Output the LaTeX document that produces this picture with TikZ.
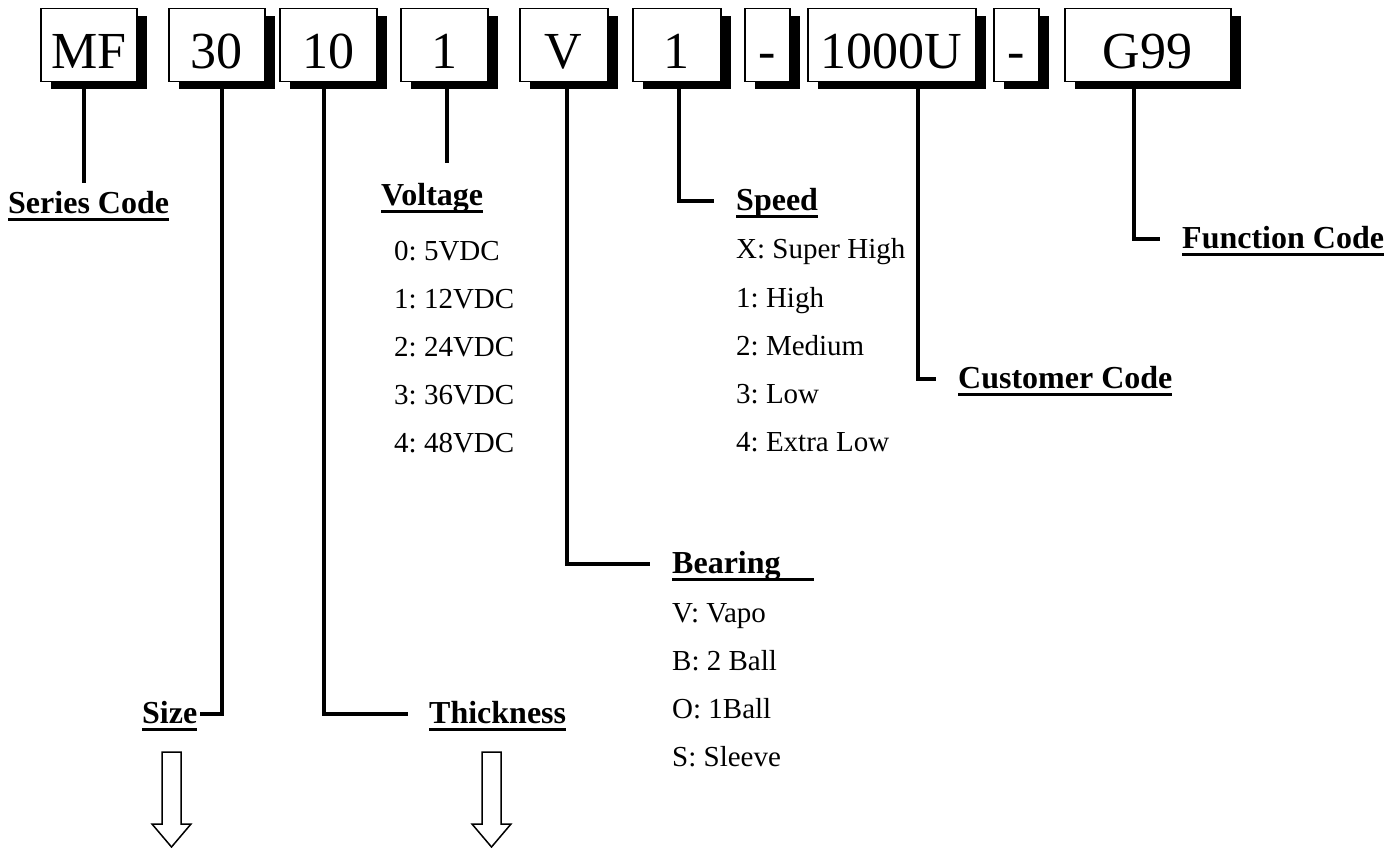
\documentclass[tikz,border=0pt]{standalone}
\usepackage{fontspec}
\setmainfont{Liberation Serif}
\usepackage{tikz}
\usetikzlibrary{shadows}
\frenchspacing
\newcommand{\ulbar}[1]{\setbox0=\hbox{#1}\rlap{\vrule height -5pt depth 8pt width \wd0}\box0}
\tikzset{
  codebox/.style = {draw=black, line width=1.5pt, fill=white, anchor=north west,
    inner sep=0pt, text height=60pt, text depth=13pt,
    font=\fontsize{52}{52}\selectfont,
    drop shadow={shadow xshift=10pt, shadow yshift=-7pt, fill=black, opacity=1}},
  lbl/.style = {inner sep=0pt, anchor=base west, text height=18pt, text depth=0pt,
    font=\fontsize{32}{32}\selectfont\bfseries},
  item/.style = {inner sep=0pt, anchor=base west, font=\fontsize{29}{29}\selectfont},
  conn/.style = {line width=4pt},
  hollow/.style = {draw=black, line width=1.5pt, fill=white}
}
\begin{document}
\begin{tikzpicture}[x=1pt, y=-1pt]
\useasboundingbox (0,0) rectangle (1400,848);
% part number boxes
\node [codebox, minimum width=96pt] (mfbox) at (40,8) {MF};
\node [codebox, minimum width=96pt] (sizebox) at (168,8) {30};
\node [codebox, minimum width=97pt] (thickbox) at (279,8) {10};
\node [codebox, minimum width=87pt] (voltbox) at (400,8) {1};
\node [codebox, minimum width=88pt] (bearbox) at (519,8) {V};
\node [codebox, minimum width=88pt] (speedbox) at (632,8) {1};
\node [codebox, minimum width=45pt] (dasha) at (744,8) {-};
\node [codebox, minimum width=168pt] (custbox) at (807,8) {1000U};
\node [codebox, minimum width=45pt] (dashb) at (993,8) {-};
\node [codebox, minimum width=166pt] (funcbox) at (1064,8) {G99};

% labels
\node [lbl] (series) at (8,213) {\ulbar{Series Code}};
\node [lbl] (volt) at (381,205) {\ulbar{Voltage}};
\node [lbl] (speed) at (736,210) {\ulbar{Speed}};
\node [lbl] (func) at (1182,248) {\ulbar{Function Code}};
\node [lbl] (cust) at (958,388) {\ulbar{Customer Code}};
\node [lbl] (bear) at (672,573) {\ulbar{Bearing\hspace{33pt}}};
\node [lbl] (size) at (142,723) {\ulbar{Size}};
\node [lbl] (thick) at (429,723) {\ulbar{Thickness}};

% voltage
\node [item] (v0) at (394,260) {0: 5VDC};
\node [item] (v1) at (394,308) {1: 12VDC};
\node [item] (v2) at (394,356) {2: 24VDC};
\node [item] (v3) at (394,404) {3: 36VDC};
\node [item] (v4) at (394,452) {4: 48VDC};
% speed
\node [item] (s0) at (736,258) {X: Super High};
\node [item] (s1) at (736,307) {1: High};
\node [item] (s2) at (736,355) {2: Medium};
\node [item] (s3) at (736,403) {3: Low};
\node [item] (s4) at (736,451) {4: Extra Low};
% bearing
\node [item] (b0) at (672,622) {V: Vapo};
\node [item] (b1) at (672,670) {B: 2 Ball};
\node [item] (b2) at (672,718) {O: 1Ball};
\node [item] (b3) at (672,766) {S: Sleeve};

% connectors
\draw [conn, shorten >=12pt] ([xshift=-5pt]mfbox.south) -- ([xshift=-5pt]mfbox.south |- series.north);
\draw [conn, shorten >=24pt] ([xshift=2.5pt]voltbox.south) -- ([xshift=2.5pt]voltbox.south |- volt.north);
\draw [conn, shorten >=3pt] ([xshift=5pt]sizebox.south) |- (size.east);
\draw [conn, shorten >=21pt] ([xshift=-4.5pt]thickbox.south) |- (thick.west);
\draw [conn, shorten >=22pt] ([xshift=3pt]bearbox.south) |- (bear.west);
\draw [conn, shorten >=22pt] ([xshift=2pt]speedbox.south) |- (speed.west);
\draw [conn, shorten >=22pt] ([xshift=26.5pt]custbox.south) |- (cust.west);
\draw [conn, shorten >=22pt] ([xshift=-14pt]funcbox.south) |- (func.west);

% hollow arrows
\draw [hollow] (162,752) -- (181,752) -- (181,824) -- (191,824) -- (171.5,847) -- (152,824) -- (162,824) -- cycle;
\draw [hollow] (482,752) -- (501,752) -- (501,824) -- (511,824) -- (491.5,847) -- (472,824) -- (482,824) -- cycle;
\end{tikzpicture}
\end{document}
